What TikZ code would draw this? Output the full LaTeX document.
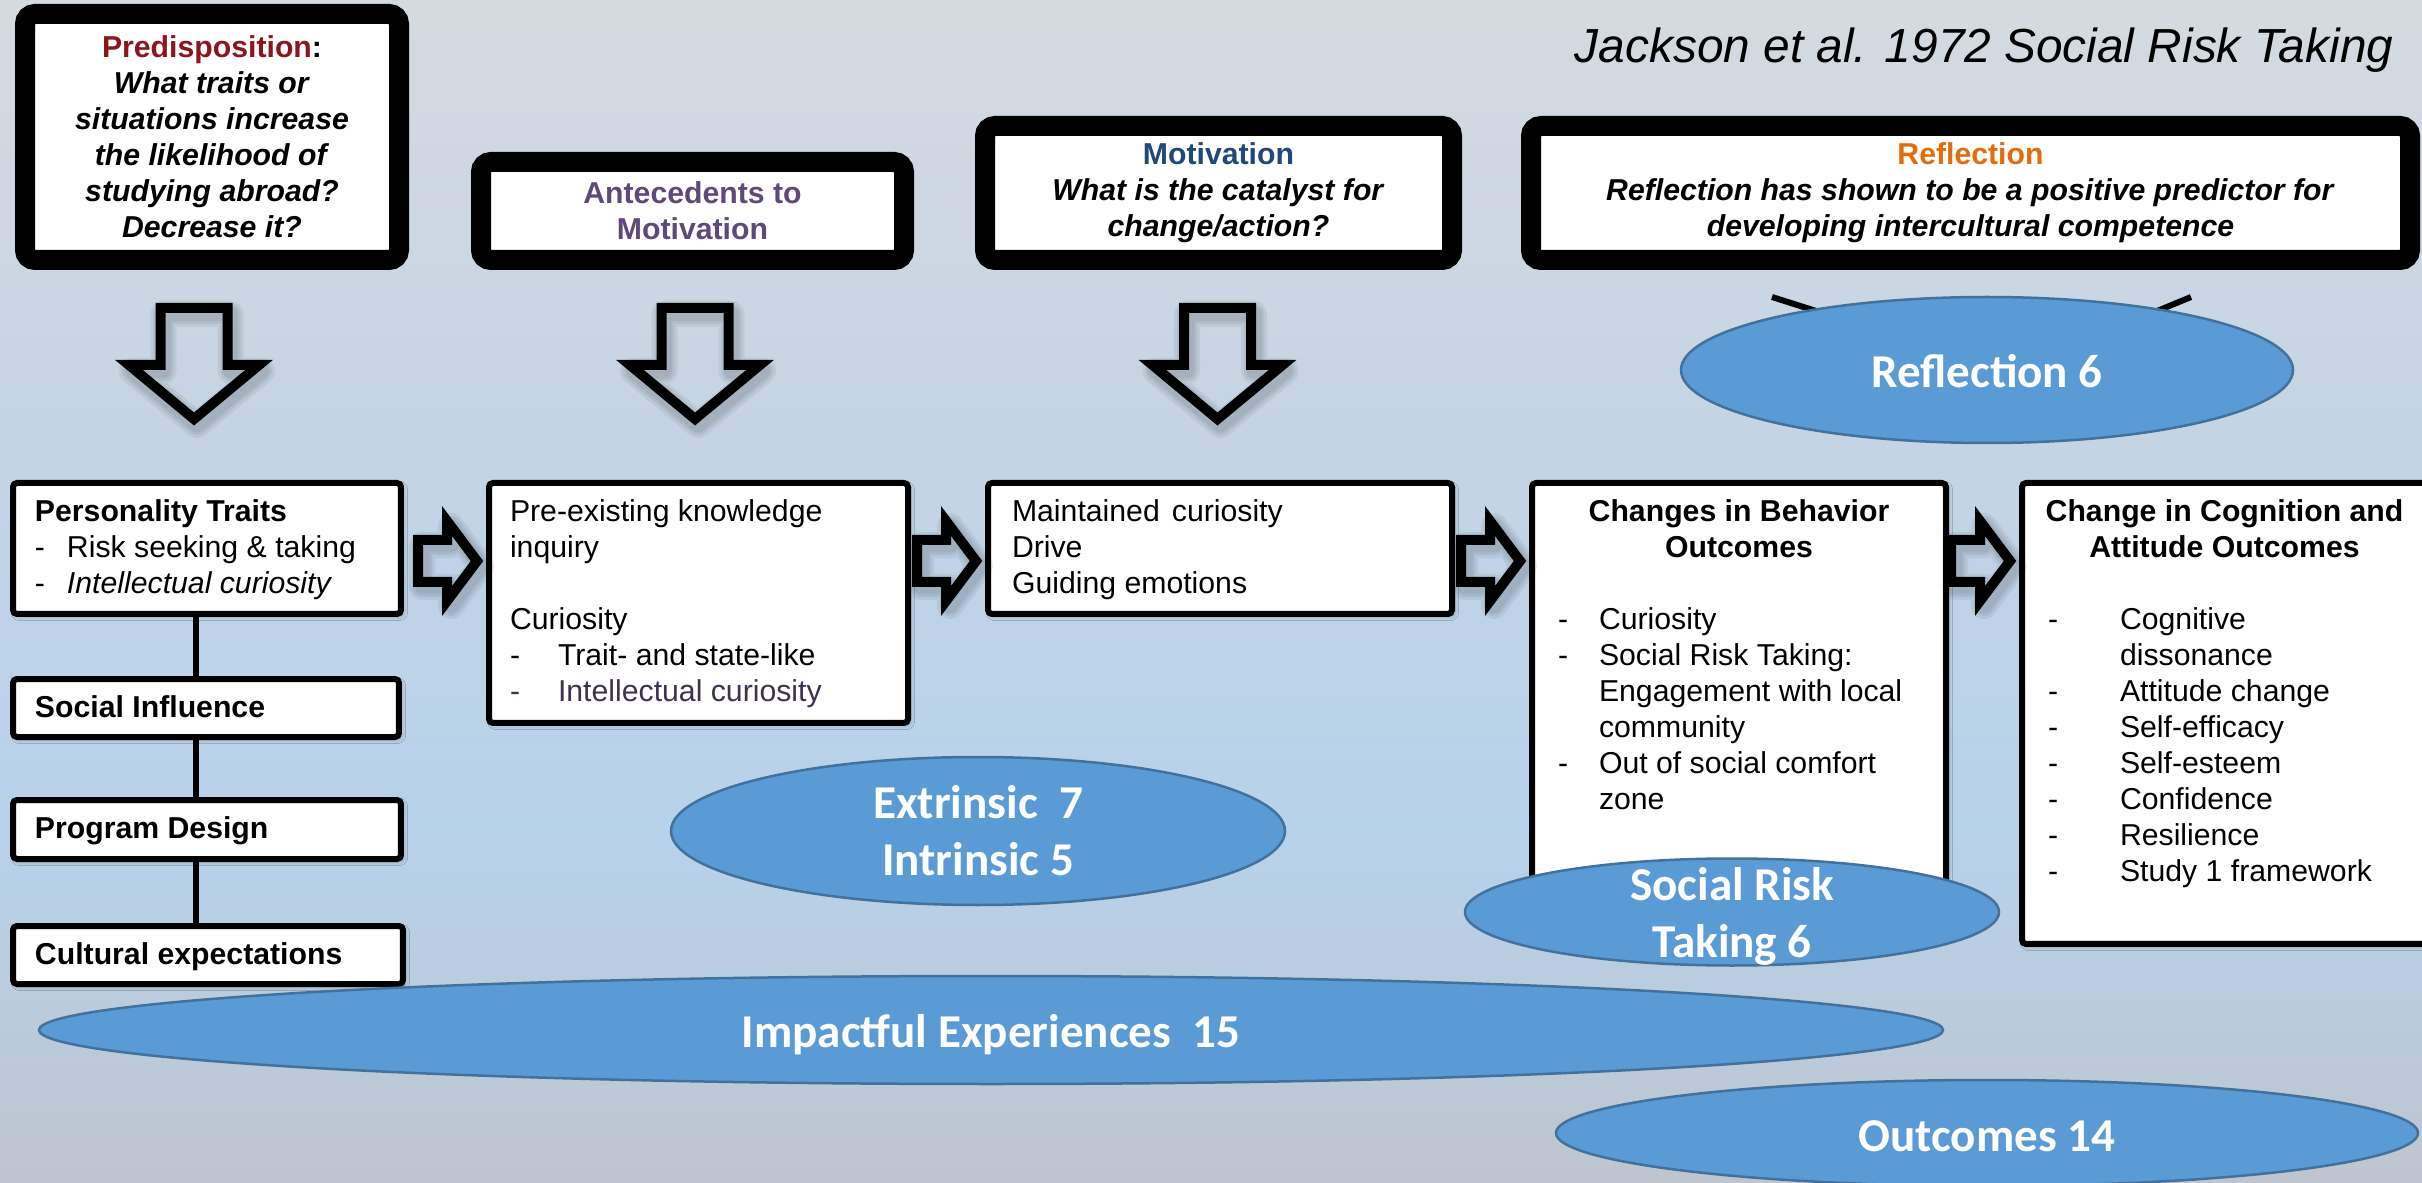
\documentclass[tikz,border=0pt]{standalone}
\usepackage{fontspec}
\setmainfont{Liberation Sans}
\newfontfamily\ellfont{Carlito}
\usetikzlibrary{shapes.geometric,calc,shadows.blur}

\definecolor{bgtop}{RGB}{213,218,224}
\definecolor{bgmid}{RGB}{196,212,228}
\definecolor{bgblue}{RGB}{183,210,235}
\definecolor{bgbot}{RGB}{190,197,207}
\definecolor{predred}{RGB}{140,22,28}
\definecolor{antpurple}{RGB}{95,73,122}
\definecolor{motblue}{RGB}{31,73,125}
\definecolor{reforange}{RGB}{228,108,10}
\definecolor{curpurple}{RGB}{64,49,82}
\definecolor{ellfill}{RGB}{91,155,213}
\definecolor{elldraw}{RGB}{65,113,156}

% vertical background: grey-blue top, light blue band, grey bottom
\pgfdeclareverticalshading{bgshade}{100bp}{color(0bp)=(bgbot); color(25bp)=(bgbot); color(40bp)=(bgblue); color(56bp)=(bgmid); color(75bp)=(bgtop); color(100bp)=(bgtop)}

% dash item with hanging text, and its continuation line
\newcommand{\dline}[2]{\mbox{\makebox[#1][l]{-}#2}}
\newcommand{\contline}[2]{\mbox{\hspace*{#1}#2}}

\begin{document}
\begin{tikzpicture}[x=0.1mm, y=-0.1mm,
  topbox/.style={draw=black, fill=white, line width=2mm, rounded corners=1mm,
    align=center, inner sep=0pt, font=\fontsize{8.6}{10.24}\selectfont\bfseries},
  midbox/.style={draw=black, fill=white, line width=0.6mm, rounded corners=0.4mm, anchor=north west,
    inner ysep=1.3mm, font=\fontsize{8.6}{10.24}\selectfont,
    blur shadow={shadow xshift=0.7pt, shadow yshift=-0.7pt, shadow opacity=25, shadow blur radius=1.2pt}},
  blockarrow/.style={draw=black, line width=1mm, line join=miter},
  arrowhaze/.style={draw=black, line join=round, opacity=0.06},
  link/.style={draw=black, line width=0.6mm},
  oval/.style={ellipse, fill=ellfill, draw=elldraw, line width=0.25mm, inner sep=0pt},
  ovaltext/.style={text=white, align=center, inner sep=0pt,
    font=\fontsize{13.4}{16.2}\selectfont\ellfont\bfseries},
  % hollow block arrow pointing down, origin at its tip
  downarr/.pic={
    \foreach \w in {2.6mm,2.0mm,1.5mm}
      \draw[arrowhaze, line width=\w] (3,6) -- ++(-65,-54) -- ++(31.5,0) -- ++(0,-57) -- ++(67,0)
        -- ++(0,57) -- ++(31.5,0) -- cycle;
    \draw[blockarrow] (0,0) -- ++(-65,-54) -- ++(31.5,0) -- ++(0,-57) -- ++(67,0)
      -- ++(0,57) -- ++(31.5,0) -- cycle;
  },
  % hollow block arrow pointing right, origin at its tip
  rightarr/.pic={
    \foreach \w in {2.6mm,2.0mm,1.5mm}
      \draw[arrowhaze, line width=\w] (4,5) -- ++(-30,-40) -- ++(0,19) -- ++(-29,0) -- ++(0,42)
        -- ++(29,0) -- ++(0,19) -- cycle;
    \draw[blockarrow] (0,0) -- ++(-30,-40) -- ++(0,19) -- ++(-29,0) -- ++(0,42)
      -- ++(29,0) -- ++(0,19) -- cycle;
  },
]
\shade[shading=bgshade] (0,0) rectangle (2422,1183);
\useasboundingbox (0,0) rectangle (2422,1183);

% title
\node[anchor=base east, inner sep=0pt, font=\fontsize{13.6}{16}\selectfont\itshape] (title)
  at (2394,63) {Jackson et al. 1972 Social Risk Taking};

% question boxes along the top
\node[topbox, minimum width=37.4mm, minimum height=24.6mm] (pred) at (212,137)
  {{\color{predred}Predisposition}:\\ \textit{What traits or}\\ \textit{situations increase}\\
   \textit{the likelihood of}\\ \textit{studying abroad?}\\ \textit{Decrease it?}};
\node[topbox, text=antpurple, minimum width=42.3mm, minimum height=9.8mm] (ante) at (692.5,211)
  {Antecedents to\\ Motivation};
\node[topbox, minimum width=46.7mm, minimum height=13.4mm] (motq) at (1218.5,193)
  {{\color{motblue}Motivation}\\ \textit{What is the catalyst for}\\ \textit{change/action?}};
\node[topbox, minimum width=87.9mm, minimum height=13.4mm] (reflq) at (1970.5,193)
  {{\color{reforange}Reflection}\\ \textit{Reflection has shown to be a positive predictor for}\\
   \textit{developing intercultural competence}};

% edges peeking out behind the reflection oval
\coordinate (rfl-a) at (1772,297);
\coordinate (rfl-b) at (1835,317);
\coordinate (rfl-c) at (2191,297);
\coordinate (rfl-d) at (2145,316);
\draw[link] (rfl-a) -- (rfl-b);
\draw[link] (rfl-c) -- (rfl-d);
\node[oval, minimum width=61.2mm, minimum height=14.6mm] (refl6) at (1987,370) {};
\node[ovaltext] (refl6-t) at ($(refl6)+(0,1)$) {Reflection 6};

% hollow down arrows under the question boxes
\coordinate (d1) at (194,419);
\coordinate (d2) at (695,419);
\coordinate (d3) at (1217.5,419);
\foreach \t in {d1,d2,d3}
  \pic at (\t) {downarr};

% left column
\node[midbox, inner xsep=2.2mm] (pt) at (10,480)
  {\parbox[c][10.5mm][t]{34.4mm}{\raggedright\strut\textbf{Personality Traits}\\
   \dline{3.2mm}{Risk seeking \& taking}\\ \dline{3.2mm}{\textit{Intellectual curiosity}}}};
\node[midbox, inner xsep=2.2mm] (si) at (10,676)
  {\parbox[c][3.2mm][t]{34.2mm}{\raggedright\strut\textbf{Social Influence}}};
\node[midbox, inner xsep=2.2mm] (pd) at (10,797)
  {\parbox[c][3.3mm][t]{34.4mm}{\raggedright\strut\textbf{Program Design}}};
\node[midbox, inner xsep=2.2mm] (ce) at (10,923)
  {\parbox[c][3.2mm][t]{34.6mm}{\raggedright\strut\textbf{Cultural expectations}}};
\draw[link] (pt.south -| 196,0) -- (si.north -| 196,0);
\draw[link] (si.south -| 196,0) -- (pd.north -| 196,0);
\draw[link] (pd.south -| 196,0) -- (ce.north -| 196,0);

% process boxes
\node[midbox, inner xsep=2.1mm] (pre) at (486,480)
  {\parbox[c][21.4mm][t]{37.7mm}{\raggedright\strut Pre-existing knowledge\\ inquiry\\ \mbox{}\\
   Curiosity\\ \dline{4.8mm}{Trait- and state-like}\\
   {\color{curpurple}\dline{4.8mm}{Intellectual curiosity}}}};
\node[midbox, inner xsep=2.4mm] (mnt) at (985,480)
  {\parbox[c][10.5mm][t]{41.6mm}{\raggedright\strut Maintained\hspace{0.4em}curiosity\\ Drive\\ Guiding emotions}};
\node[midbox, inner xsep=2.6mm] (beh) at (1529,480)
  {\parbox[c][38.8mm][t]{36.2mm}{\bfseries\strut\makebox[\linewidth][c]{Changes in Behavior}\\
   \makebox[\linewidth][c]{Outcomes}\\ \mdseries\mbox{}\\
   \dline{4.1mm}{Curiosity}\\ \dline{4.1mm}{Social Risk Taking:}\\
   \contline{4.1mm}{Engagement with\hspace{0.25em}local}\\ \contline{4.1mm}{community}\\
   \dline{4.1mm}{Out of social comfort}\\ \contline{4.1mm}{zone}}};
\node[midbox, inner xsep=2.6mm] (cog) at (2019,480)
  {\parbox[c][43.5mm][t]{35.3mm}{\bfseries\strut\makebox[\linewidth][c]{Change in Cognition and}\\
   \makebox[\linewidth][c]{Attitude Outcomes}\\ \mdseries\mbox{}\\
   \dline{7.2mm}{Cognitive}\\ \contline{7.2mm}{dissonance}\\ \dline{7.2mm}{Attitude change}\\
   \dline{7.2mm}{Self-efficacy}\\ \dline{7.2mm}{Self-esteem}\\ \dline{7.2mm}{Confidence}\\
   \dline{7.2mm}{Resilience}\\ \dline{7.2mm}{Study 1 framework}}};

% hollow right arrows between the process boxes
\path ($(pre.west |- 0,561)+(-9,0)$) coordinate (r1);
\path ($(mnt.west |- 0,561)+(-9,0)$) coordinate (r2);
\path ($(beh.west |- 0,561)+(-9,0)$) coordinate (r3);
\path ($(cog.west |- 0,561)+(-9,0)$) coordinate (r4);
\foreach \t in {r1,r2,r3,r4}
  \pic at (\t) {rightarr};

% theme ovals
\node[oval, minimum width=61.4mm, minimum height=14.8mm] (extr) at (978,831) {};
\node[ovaltext] (extr-t) at (extr) {Extrinsic\ \ 7\\ Intrinsic 5};
\node[oval, minimum width=53.4mm, minimum height=10.7mm] (srt) at (1732,912) {};
\node[ovaltext] (srt-t) at ($(srt)+(0,4)$) {Social Risk\\ Taking 6};
\node[oval, minimum width=190.4mm, minimum height=10.8mm] (imp) at (991,1030) {};
\node[ovaltext] (imp-t) at ($(imp)+(0,5)$) {Impactful Experiences\ \ 15};
\node[oval, minimum width=86.2mm, minimum height=10.6mm] (outc) at (1987,1133) {};
\node[ovaltext] (outc-t) at ($(outc)+(0,3)$) {Outcomes 14};
\end{tikzpicture}
\end{document}
